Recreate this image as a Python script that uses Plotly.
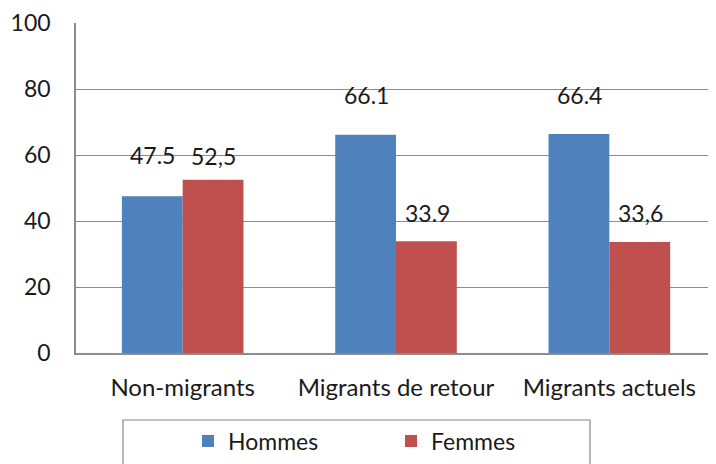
import plotly.graph_objects as go

categories = ["Non-migrants", "Migrants de retour", "Migrants actuels"]
hommes = [47.5, 66.1, 66.4]
femmes = [52.5, 33.9, 33.6]
hommes_labels = ["47.5", "66.1", "66.4"]
femmes_labels = ["52,5", "33.9", "33,6"]
hommes_shift = [41, 40, 39]
femmes_shift = [24, 28, 29]

FONT = "Lato"
FS = 23
W, H = 708, 456          # page body has an 8px margin
L, T, B = 68, 15, 111
PW, PH = W - L, H - T - B

fig = go.Figure()
fig.add_trace(go.Bar(name="Hommes", x=categories, y=hommes, marker=dict(color="#4F81BD", line=dict(width=0))))
fig.add_trace(go.Bar(name="Femmes", x=categories, y=femmes, marker=dict(color="#C0504D", line=dict(width=0))))

for i, c in enumerate(categories):
    fig.add_annotation(x=c, y=hommes[i], text=hommes_labels[i], showarrow=False,
                       xshift=-30, yshift=hommes_shift[i], font=dict(size=FS, color="#1a1a1a", family=FONT))
    fig.add_annotation(x=c, y=femmes[i], text=femmes_labels[i], showarrow=False,
                       xshift=31, yshift=femmes_shift[i], font=dict(size=FS, color="#1a1a1a", family=FONT))

fig.add_shape(type="rect", xref="paper", yref="paper", x0=(115 - L) / PW, x1=(582 - L) / PW,
              y0=-(412 - (T + PH)) / PH, y1=-(470 - (T + PH)) / PH,
              line=dict(color="#888", width=1.2), fillcolor="rgba(0,0,0,0)")

fig.update_layout(
    width=W, height=H,
    margin=dict(l=L, r=0, t=T, b=B, autoexpand=False),
    plot_bgcolor="white", paper_bgcolor="white",
    barmode="group", bargap=0.43, bargroupgap=0,
    font=dict(family=FONT, size=FS, color="#1a1a1a"),
    showlegend=True,
    legend=dict(orientation="h", x=(180 - L) / PW, xanchor="left", y=-(433 - (T + PH)) / PH, yanchor="middle",
                entrywidth=158, font=dict(size=FS, family=FONT), itemsizing="constant",
                bgcolor="rgba(0,0,0,0)", traceorder="normal"),
    xaxis=dict(showline=True, linecolor="#8c8c8c", linewidth=1.5, showgrid=False, ticks="",
               automargin=False, ticklabelstandoff=12, tickfont=dict(size=24, family=FONT)),
    yaxis=dict(range=[0, 100], dtick=20, showline=True, linecolor="#8c8c8c", linewidth=1.5,
               showgrid=True, gridcolor="#8c8c8c", gridwidth=1.2, zeroline=False, ticks="",
               automargin=False, ticklabelstandoff=19, tickfont=dict(size=FS, family=FONT)),
)
fig.write_html("out.html")
